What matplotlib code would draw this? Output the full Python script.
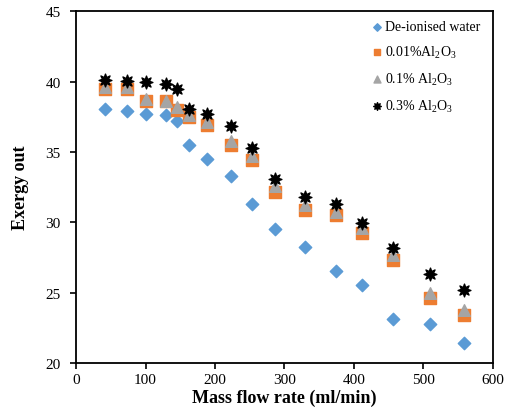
import matplotlib
matplotlib.use('Agg')
import matplotlib.pyplot as plt

# flow rate (ml/min)
flow = [42, 73, 101, 130, 145, 163, 188, 223, 253, 286, 330, 374, 412, 456, 510, 559]

water = [38.05, 37.93, 37.7, 37.6, 37.18, 35.52, 34.5, 33.3, 31.28, 29.5, 28.26, 26.55, 25.55, 23.12, 22.74, 21.45]
al_001 = [39.5, 39.45, 38.66, 38.6, 38.0, 37.5, 36.9, 35.48, 34.45, 32.19, 30.88, 30.52, 29.26, 27.31, 24.62, 23.38]
al_01 = [39.6, 39.6, 38.75, 38.65, 38.2, 37.65, 37.1, 35.8, 34.75, 32.55, 31.24, 30.76, 29.57, 27.67, 25.0, 23.74]
al_03 = [40.15, 40.08, 39.98, 39.85, 39.5, 38.07, 37.7, 36.83, 35.29, 33.1, 31.79, 31.31, 29.98, 28.19, 26.31, 25.16]

labels = ['De-ionised water', '0.01%Al$_2$O$_3$', '0.1% Al$_2$O$_3$', '0.3% Al$_2$O$_3$']

plt.rcParams['font.family'] = ['Liberation Serif', 'DejaVu Serif']
plt.rcParams['mathtext.fontset'] = 'custom'
plt.rcParams['mathtext.rm'] = 'Liberation Serif'

fig = plt.figure(figsize=(5.07, 4.14), dpi=100)
ax = fig.add_axes([0.15, 0.121, 0.822, 0.849])

ax.scatter(flow, water, marker='D', s=40, color='#5B9BD5', label=labels[0], zorder=3)
ax.scatter(flow, al_001, marker='s', s=70, color='#ED7D31', label=labels[1], zorder=4)
ax.scatter(flow, al_01, marker='^', s=70, color='#A5A5A5', label=labels[2], zorder=5)
ax.scatter(flow, al_03, marker=(8, 1, 0), s=85, color='black', label=labels[3], zorder=6)

ax.set_xlim(0, 600)
ax.set_ylim(20, 45)
ax.set_xticks(range(0, 601, 100))
ax.set_yticks(range(20, 46, 5))
ax.tick_params(direction='out', length=4, width=1.2, labelsize=11, colors='black')
ax.tick_params(axis='y', pad=7)
for sp in ax.spines.values():
    sp.set_linewidth(1.3)

ax.set_xlabel('Mass flow rate (ml/min)', fontsize=13, fontweight='bold', labelpad=2)
ax.set_ylabel('Exergy out', fontsize=13, fontweight='bold', labelpad=12)

ax.legend(loc='upper right', frameon=False, fontsize=10, handletextpad=0.1,
          handlelength=0.9, markerscale=0.6, labelspacing=0.75,
          bbox_to_anchor=(1.0, 1.01))

fig.savefig('out.png', dpi=100)
